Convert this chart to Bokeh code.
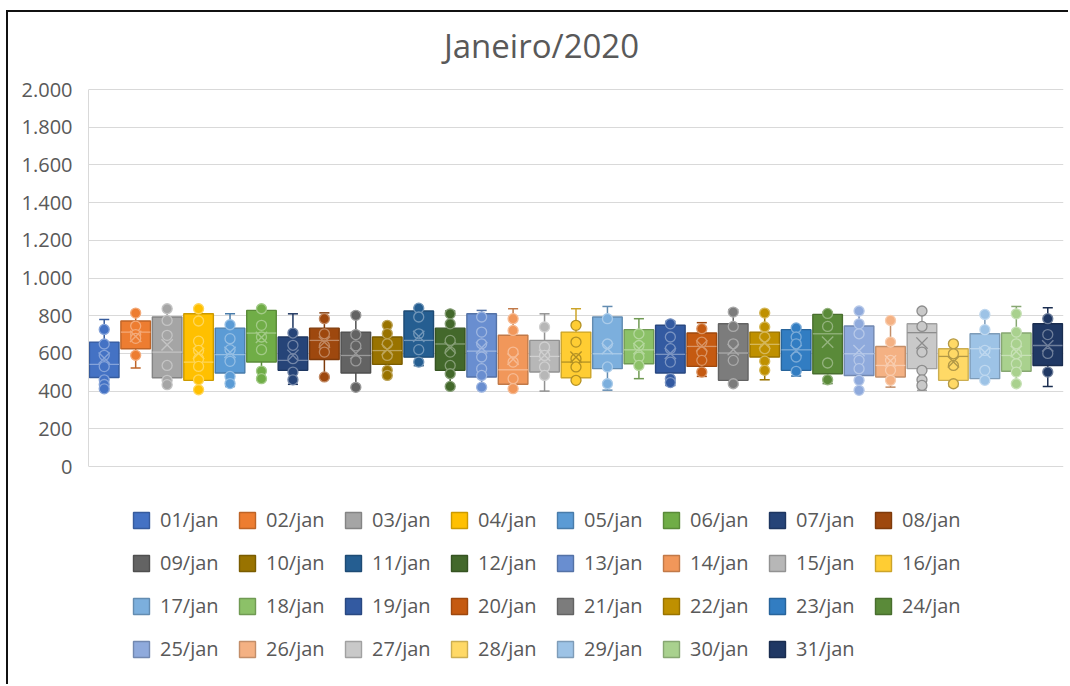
from bokeh.plotting import figure
from bokeh.models import Range1d, FixedTicker, Legend, LegendItem, Label, ColumnDataSource
from bokeh.embed import file_html
from bokeh.resources import INLINE
from bokeh.core.properties import value

# --- data -------------------------------------------------------------
days = ["01/jan", "02/jan", "03/jan", "04/jan", "05/jan", "06/jan", "07/jan", "08/jan",
        "09/jan", "10/jan", "11/jan", "12/jan", "13/jan", "14/jan", "15/jan", "16/jan",
        "17/jan", "18/jan", "19/jan", "20/jan", "21/jan", "22/jan", "23/jan", "24/jan",
        "25/jan", "26/jan", "27/jan", "28/jan", "29/jan", "30/jan", "31/jan"]

colors = ["#4472C4", "#ED7D31", "#A5A5A5", "#FFC000", "#5B9BD5", "#70AD47",
          "#264478", "#9E480E", "#636363", "#997300", "#255E91", "#43682B",
          "#698ED0", "#F1975A", "#B7B7B7", "#FFCD33", "#7CAFDD", "#8CC168",
          "#335AA1", "#C55A11", "#7C7C7C", "#BF9000", "#327DC2", "#5A8A39",
          "#8FAADC", "#F4B183", "#C9C9C9", "#FFD966", "#9DC3E6", "#A9D18E",
          "#203864"]

lower  = [405, 522, 432, 405, 425, 460, 436, 470, 416, 483, 535, 425, 420, 413, 400, 450,
          405, 466, 430, 478, 432, 460, 480, 440, 404, 421, 404, 425, 448, 439, 425]
q1     = [472, 625, 471, 457, 496, 554, 510, 568, 496, 542, 580, 510, 475, 436, 501, 471,
          519, 545, 496, 531, 457, 581, 510, 492, 483, 475, 519, 457, 466, 505, 536]
median = [542, 713, 607, 554, 593, 708, 563, 669, 589, 615, 669, 650, 612, 513, 584, 554,
          598, 619, 595, 637, 602, 648, 619, 704, 598, 536, 710, 584, 625, 589, 642]
q3     = [660, 772, 793, 810, 734, 828, 687, 734, 713, 687, 825, 734, 810, 696, 669, 713,
          793, 726, 749, 708, 757, 713, 726, 807, 745, 637, 757, 625, 704, 708, 757]
upper  = [780, 815, 837, 840, 810, 840, 810, 815, 815, 749, 842, 825, 828, 837, 810, 837,
          849, 784, 770, 763, 832, 815, 743, 819, 825, 775, 825, 651, 807, 849, 842]
mean   = [575, 690, 645, 600, 605, 685, 590, 660, 600, 620, 690, 630, 630, 570, 590, 580,
          625, 625, 600, 640, 620, 655, 615, 660, 615, 560, 655, 555, 605, 610, 640]
points = [
    [727, 650, 590, 530, 460, 435, 412],
    [814, 745, 700, 680, 590],
    [837, 775, 696, 536, 457, 434],
    [837, 772, 665, 616, 572, 531, 460, 407],
    [752, 678, 620, 558, 478, 440],
    [837, 749, 687, 620, 506, 466],
    [708, 643, 572, 501, 460],
    [784, 704, 640, 607, 475],
    [802, 700, 640, 560, 420],
    [749, 705, 651, 589, 510, 483],
    [840, 793, 704, 620, 554],
    [810, 757, 669, 607, 536, 492, 425],
    [793, 713, 651, 581, 519, 483, 421],
    [784, 722, 607, 554, 466, 413],
    [740, 634, 589, 528, 483],
    [749, 660, 572, 528, 457],
    [784, 650, 528, 439],
    [704, 642, 581, 536],
    [757, 687, 625, 554, 466, 445],
    [731, 660, 607, 563, 501],
    [819, 743, 651, 563, 439],
    [814, 740, 687, 625, 559, 510],
    [735, 687, 651, 581, 505],
    [812, 743, 549, 460],
    [825, 757, 704, 563, 519, 457, 404],
    [775, 660, 563, 510, 457],
    [825, 743, 607, 510, 460, 430],
    [651, 598, 536, 439],
    [807, 726, 616, 510, 457],
    [810, 713, 651, 598, 545, 501, 439],
    [784, 700, 600, 501],
]

tick_values = [0, 200, 400, 600, 800, 1000, 1200, 1400, 1600, 1800, 2000]
tick_labels = ["0", "200", "400", "600", "800", "1.000", "1.200", "1.400", "1.600", "1.800", "2.000"]

title_text = "Janeiro/2020"


# --- colour helpers ----------------------------------------------------
def mix(hex_color, target, t):
    h = hex_color.lstrip("#")
    rgb = [int(h[i:i + 2], 16) for i in (0, 2, 4)]
    out = [round(c + (target - c) * t) for c in rgb]
    return "#%02x%02x%02x" % tuple(out)


def lum(hex_color):
    h = hex_color.lstrip("#")
    r, g, b = [int(h[i:i + 2], 16) for i in (0, 2, 4)]
    return (0.299 * r + 0.587 * g + 0.114 * b) / 255


edge = [mix(c, 0, 0.2) for c in colors]
marks = [mix(c, 0, 0.3) if lum(c) > 0.77 else mix(c, 255, 0.35) for c in colors]

TEXT = "#595959"
FONT = "Open Sans"
BOX_W = 0.94
CAP = 0.16

# The frame spans the full height of the canvas so that the title and the
# legend rows can sit inside it; the value axis itself only covers 0..2000.
PX_PER_UNIT = 377 / 2000
FRAME_H = 674
Y_TOP = 2000 + 77 / PX_PER_UNIT
Y_BOTTOM = Y_TOP - FRAME_H / PX_PER_UNIT

xs = list(range(len(days)))

box_src = ColumnDataSource(dict(
    x=xs, q1=q1, q3=q3, med=median, lo=lower, hi=upper, mean=mean,
    color=colors, edge=edge, mark=marks,
    left=[x - BOX_W / 2 for x in xs], right=[x + BOX_W / 2 for x in xs],
    cl=[x - CAP for x in xs], cr=[x + CAP for x in xs],
))

pt_x, pt_y, pt_c, pt_m = [], [], [], []
for i, vals in enumerate(points):
    for v in vals:
        pt_x.append(i)
        pt_y.append(v)
        pt_c.append(colors[i])
        pt_m.append(marks[i])
pt_src = ColumnDataSource(dict(x=pt_x, y=pt_y, color=pt_c, mark=pt_m))

# --- figure ------------------------------------------------------------
p = figure(width=1062, height=674, output_backend="svg", toolbar_location=None,
           x_axis_location=None, x_range=Range1d(-0.5, 30.5),
           y_range=Range1d(Y_BOTTOM, Y_TOP),
           min_border_left=80, min_border_right=7, min_border_top=0, min_border_bottom=0,
           margin=(10, 0, 0, 6),
           styles={"border-left": "2px solid #111111", "border-top": "2px solid #111111"})
p.outline_line_color = None
p.background_fill_color = "white"
p.border_fill_color = "white"
p.xgrid.visible = False
p.ygrid.grid_line_color = "#d9d9d9"
p.ygrid.grid_line_width = 1

ax = p.yaxis[0]
ax.ticker = FixedTicker(ticks=tick_values)
ax.major_label_overrides = dict(zip(tick_values, tick_labels))
ax.bounds = (0, 2000)
ax.major_tick_out = 0
ax.major_tick_in = 0
ax.minor_tick_out = 0
ax.minor_tick_in = 0
ax.axis_line_color = "#d9d9d9"
ax.major_label_standoff = 16
ax.major_label_text_font = FONT
ax.major_label_text_font_size = "20px"
ax.major_label_text_color = TEXT

# whiskers and caps
p.segment(x0="x", y0="q3", x1="x", y1="hi", source=box_src, line_color="edge", line_width=1.5)
p.segment(x0="x", y0="q1", x1="x", y1="lo", source=box_src, line_color="edge", line_width=1.5)
p.segment(x0="cl", y0="hi", x1="cr", y1="hi", source=box_src, line_color="edge", line_width=1.5)
p.segment(x0="cl", y0="lo", x1="cr", y1="lo", source=box_src, line_color="edge", line_width=1.5)

# boxes
boxes = p.vbar(x="x", width=BOX_W, top="q3", bottom="q1", source=box_src,
               fill_color="color", line_color="edge", line_width=1.4)

# median line
p.segment(x0="left", y0="med", x1="right", y1="med", source=box_src,
          line_color="mark", line_width=1.3)

# inner points
p.scatter(x="x", y="y", source=pt_src, marker="circle", size=10,
          fill_color="color", line_color="mark", line_width=1.3)

# mean markers
p.scatter(x="x", y="mean", source=box_src, marker="x", size=16,
          line_color="mark", line_width=1.4)

# title
p.add_layout(Label(x=453, y=641, x_units="screen", y_units="screen", text=title_text,
                   text_align="center", text_baseline="middle", text_font=FONT,
                   text_font_size="33px", text_color=TEXT))

# legend: four rows of eight entries
for r in range(4):
    idx = range(8 * r, min(8 * r + 8, len(days)))
    items = [LegendItem(label=value(days[i]), renderers=[boxes], index=i) for i in idx]
    leg = Legend(items=items, orientation="horizontal", location=(43, 153 - 43 * r),
                 glyph_width=20, glyph_height=20, label_standoff=9, label_width=70,
                 label_height=20, spacing=7, padding=0, margin=0, border_line_color=None,
                 background_fill_alpha=0, label_text_font=FONT,
                 label_text_font_size="20px", label_text_color=TEXT)
    p.add_layout(leg)

open("out.html", "w").write(file_html(p, INLINE))
